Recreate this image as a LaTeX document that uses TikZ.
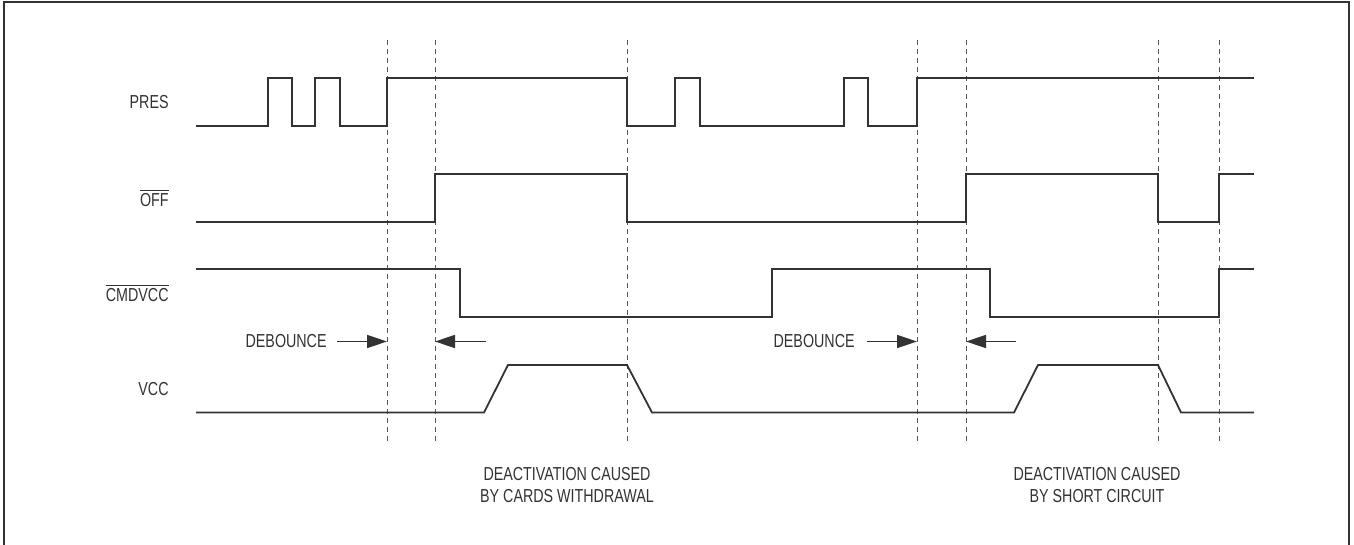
\documentclass[tikz,border=0pt]{standalone}
\usepackage{fontspec}
\setmainfont{Liberation Sans}[FakeStretch=0.76]
\usepackage{tikz}
\usetikzlibrary{arrows.meta}

\definecolor{ink}{HTML}{333333}
\definecolor{dashink}{HTML}{555555}

\tikzset{
  wave/.style={ink,line width=0.9pt},
  guide/.style={dashink,line width=0.45pt,dash pattern=on 2.5pt off 2pt},
  lbl/.style={ink,font=\fontsize{9.4}{11}\selectfont,inner sep=0pt},
  push/.style={ink,line width=0.8pt,-{Triangle[length=10pt,width=6.5pt]}},
}

\begin{document}
\begin{tikzpicture}[x=0.5pt,y=-0.5pt]
	\useasboundingbox (0,0) rectangle (1354,545);
	% frame (open at the bottom)
	\draw[ink,line width=1.1pt] (4,545) -- (4,2) -- (1349,2) -- (1349,545);
	% time markers
	\foreach \t in {387,435,627,917,966,1158,1219}
		\draw[guide] (\t,40) -- (\t,443);
	% signal names
	\node[lbl,anchor=east] (pres) at (169,102) {PRES};
	\node[lbl,anchor=east] (off) at (169,198) {$\overline{\hbox{OFF}}$};
	\node[lbl,anchor=east] (cmd) at (169,293) {$\overline{\hbox{CMDVCC}}$};
	\node[lbl,anchor=east] (vcc) at (169,389) {VCC};
	% waveforms
	\draw[wave] (196,126) -| (268,78) -| (292,126) -| (315,78) -| (340,126) -| (387,78)
		-| (627,126) -| (675,78) -| (700,126) -| (844,78) -| (868,126) -| (917,78) -- (1254,78);
	\draw[wave] (196,222) -| (435,174) -| (627,222) -| (966,174) -| (1158,222) -| (1219,174) -- (1254,174);
	\draw[wave] (196,269) -| (460,317) -| (772,269) -| (990,317) -| (1219,269) -- (1254,269);
	\draw[wave] (196,412.5) -- (484,412.5) -- (508,365) -- (627,365) -- (652,412.5)
		-- (1014,412.5) -- (1038,365) -- (1158,365) -- (1181,412.5) -- (1254,412.5);
	% debounce marks
	\node[lbl,anchor=east] (deb1) at (327,341.5) {DEBOUNCE};
	\coordinate (d1) at (387,341.5);
	\coordinate (d2) at (435,341.5);
	\coordinate (r1) at (486,341.5);
	\draw[push,shorten <=5pt] (deb1.east) -- (d1);
	\draw[push] (r1) -- (d2);
	\node[lbl,anchor=east] (deb2) at (855,341.5) {DEBOUNCE};
	\coordinate (d3) at (917,341.5);
	\coordinate (d4) at (966,341.5);
	\coordinate (r2) at (1016,341.5);
	\draw[push,shorten <=6pt] (deb2.east) -- (d3);
	\draw[push] (r2) -- (d4);
	% notes
	\node[lbl,align=center] (cause1) at (567,485) {DEACTIVATION CAUSED\\BY CARDS WITHDRAWAL};
	\node[lbl,align=center] (cause2) at (1097,485) {DEACTIVATION CAUSED\\BY SHORT CIRCUIT};
\end{tikzpicture}
\end{document}
